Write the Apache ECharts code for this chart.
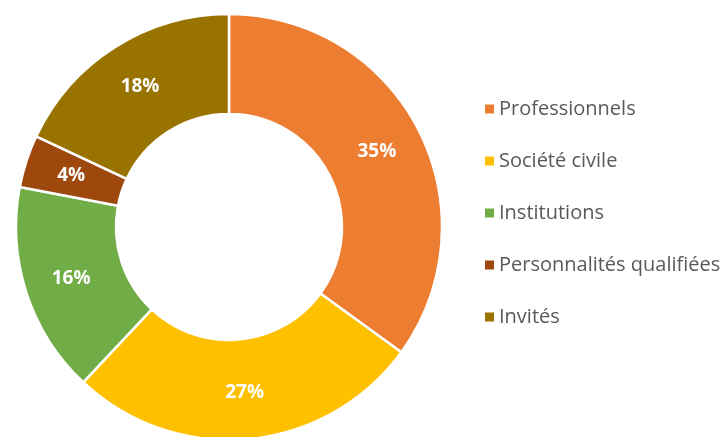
<!DOCTYPE html>
<html>
<head>
<meta charset="utf-8">
<script src="https://cdn.jsdelivr.net/npm/echarts@6/dist/echarts.min.js"></script>
<style>
html,body{margin:0;padding:0;background:#fff;}
#chart{width:722px;height:437px;}
</style>
</head>
<body>
<div id="chart"></div>
<script>
const categories = ['Professionnels', 'Société civile', 'Institutions', 'Personnalités qualifiées', 'Invités'];
const values = [35, 27, 16, 4, 18];
const colors = ['#ED7D31', '#FFC000', '#70AD47', '#9E480E', '#997300'];

const chart = echarts.init(document.getElementById('chart'), null, {renderer: 'canvas'});
chart.setOption({
  animation: false,
  backgroundColor: '#ffffff',
  color: colors,
  legend: {
    orient: 'vertical',
    left: 480,
    top: 94,
    itemWidth: 9,
    itemHeight: 9,
    itemGap: 32,
    itemStyle: { borderWidth: 0 },
    icon: 'rect',
    data: categories,
    textStyle: {
      color: '#595959',
      fontSize: 20,
      fontFamily: 'Open Sans',
      lineHeight: 20
    }
  },
  series: [{
    type: 'pie',
    center: [229, 227],
    radius: [113, 213],
    startAngle: 90,
    clockwise: true,
    avoidLabelOverlap: false,
    itemStyle: { borderColor: '#ffffff', borderWidth: 2.5 },
    label: {
      show: true,
      position: 'inside',
      formatter: '{c}%',
      color: '#ffffff',
      fontWeight: 'bold',
      fontSize: 19,
      fontFamily: 'Open Sans'
    },
    labelLine: { show: false },
    emphasis: { disabled: true },
    data: categories.map((c, i) => ({ name: c, value: values[i] }))
  }]
});
</script>
</body>
</html>
